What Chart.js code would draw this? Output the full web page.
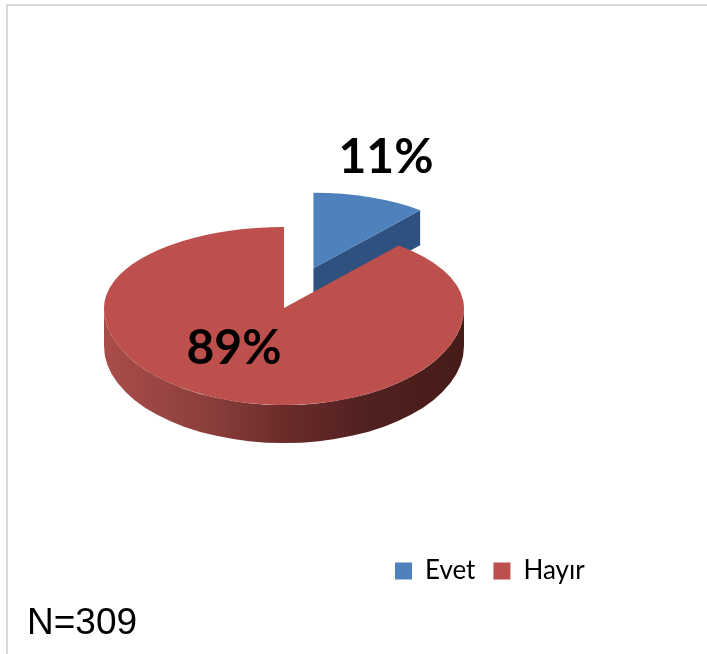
<!DOCTYPE html>
<html>
<head>
<meta charset="utf-8">
<script src="https://cdn.jsdelivr.net/npm/chart.js@4/dist/chart.umd.min.js"></script>
<style>
  html, body { margin: 0; padding: 0; background: #fff; overflow: hidden; }
  canvas { display: block; }
</style>
</head>
<body>
<canvas id="myChart1" width="707" height="654"></canvas>
<script>
const categorias = ["Evet", "Hayır"];
const valores = [11, 89];
const colores = ["#4f81bd", "#bd4f4c"];
const nota = "N=309";

// Look of the tilted pie: centre on the page and squash of the top/bottom half
const centro = { x: 284, y: 308 };
const radio = 180;
const escalaArriba = 81 / 180;
const escalaAbajo = 97 / 180;
const profundidad = 38;
// The exploded slice sits further back, so it comes out a bit smaller
const separacion = 94;
const escalaAtras = 0.93;
const corrimientoAtras = -2.4;

function dibujarMarco(ctx, chart) {
  ctx.fillStyle = "#d9d9d9";
  ctx.fillRect(6, 4, chart.width - 6, 2);
  ctx.fillRect(6, 4, 2, chart.height - 4);
}

function paredFrontal(ctx) {
  // Side wall under the front half of the pie
  const grad = ctx.createLinearGradient(centro.x - radio, 0, centro.x + radio, 0);
  grad.addColorStop(0, "#a94d4a");
  grad.addColorStop(0.3, "#8a3e3c");
  grad.addColorStop(0.5, "#6b2c2a");
  grad.addColorStop(0.72, "#512120");
  grad.addColorStop(1, "#461b18");
  const ry = radio * escalaAbajo;
  ctx.save();
  ctx.fillStyle = grad;
  ctx.beginPath();
  ctx.ellipse(centro.x, centro.y + profundidad, radio, ry, 0, 0, Math.PI);
  ctx.lineTo(centro.x - radio, centro.y);
  ctx.ellipse(centro.x, centro.y, radio, ry, 0, Math.PI, 0, true);
  ctx.closePath();
  ctx.fill();
  ctx.restore();
}

function dibujarSeparado(ctx, arc) {
  // Slice pulled out of the pie, with the wall of its front cut
  const p = arc.getProps(["x", "y", "startAngle", "endAngle", "outerRadius"], true);
  const medio = (p.startAngle + p.endAngle) / 2;
  const sy = escalaAtras * escalaArriba;
  const ax = centro.x + corrimientoAtras + Math.cos(medio) * separacion;
  const ay = centro.y + Math.sin(medio) * separacion * escalaArriba;
  const bx = ax + Math.cos(p.endAngle) * p.outerRadius * escalaAtras;
  const by = ay + Math.sin(p.endAngle) * p.outerRadius * sy;

  ctx.save();
  ctx.fillStyle = "#2e5180";
  ctx.beginPath();
  ctx.moveTo(ax, ay);
  ctx.lineTo(bx, by);
  ctx.lineTo(bx, by + profundidad - 3);
  ctx.lineTo(ax, ay + profundidad - 3);
  ctx.closePath();
  ctx.fill();
  ctx.restore();

  ctx.save();
  ctx.translate(ax, ay);
  ctx.scale(escalaAtras, sy);
  ctx.translate(-p.x, -p.y);
  arc.draw(ctx);
  ctx.restore();
}

function dibujarMitad(ctx, chart, arc, arriba) {
  const escala = arriba ? escalaArriba : escalaAbajo;
  ctx.save();
  ctx.beginPath();
  if (arriba) {
    ctx.rect(0, 0, chart.width, centro.y);
  } else {
    ctx.rect(0, centro.y, chart.width, chart.height - centro.y);
  }
  ctx.clip();
  ctx.translate(centro.x, centro.y);
  ctx.scale(1, escala);
  ctx.translate(-arc.x, -arc.y);
  arc.draw(ctx);
  ctx.restore();
}

const pie3d = {
  id: "pie3d",
  beforeDraw(chart) {
    dibujarMarco(chart.ctx, chart);
    // The legend sits low on the right, not centred on the canvas
    const legend = chart.legend;
    const ancho = legend.right - legend.left;
    legend.left = 377;
    legend.right = 377 + ancho;
    legend.top = 540;
  },
  beforeDatasetDraw(chart, args) {
    const ctx = chart.ctx;
    const arcs = args.meta.data;
    dibujarSeparado(ctx, arcs[0]);
    paredFrontal(ctx);
    dibujarMitad(ctx, chart, arcs[1], true);
    dibujarMitad(ctx, chart, arcs[1], false);
    return false;
  },
  afterDraw(chart) {
    const ctx = chart.ctx;
    ctx.save();
    ctx.fillStyle = "#000";
    ctx.textAlign = "center";
    ctx.textBaseline = "middle";
    ctx.font = "bold 48px Lato";
    ctx.fillText(valores[0] + "%", 386, 158);
    ctx.fillText(valores[1] + "%", 234, 349);
    ctx.textAlign = "left";
    ctx.font = "37px 'Liberation Sans'";
    ctx.fillText(nota, 27, 624);
    ctx.restore();
  },
};

new Chart(document.getElementById("myChart1"), {
  type: "pie",
  data: {
    labels: categorias,
    datasets: [
      {
        data: valores,
        backgroundColor: colores,
        borderWidth: 0,
        radius: radio,
        clip: false,
      },
    ],
  },
  options: {
    responsive: false,
    animation: false,
    plugins: {
      tooltip: { enabled: false },
      legend: {
        position: "bottom",
        align: "start",
        labels: {
          boxWidth: 17,
          boxHeight: 17,
          padding: 18,
          color: "#000",
          font: { family: "Lato", size: 26 },
        },
      },
    },
  },
  plugins: [pie3d],
});
</script>
</body>
</html>
